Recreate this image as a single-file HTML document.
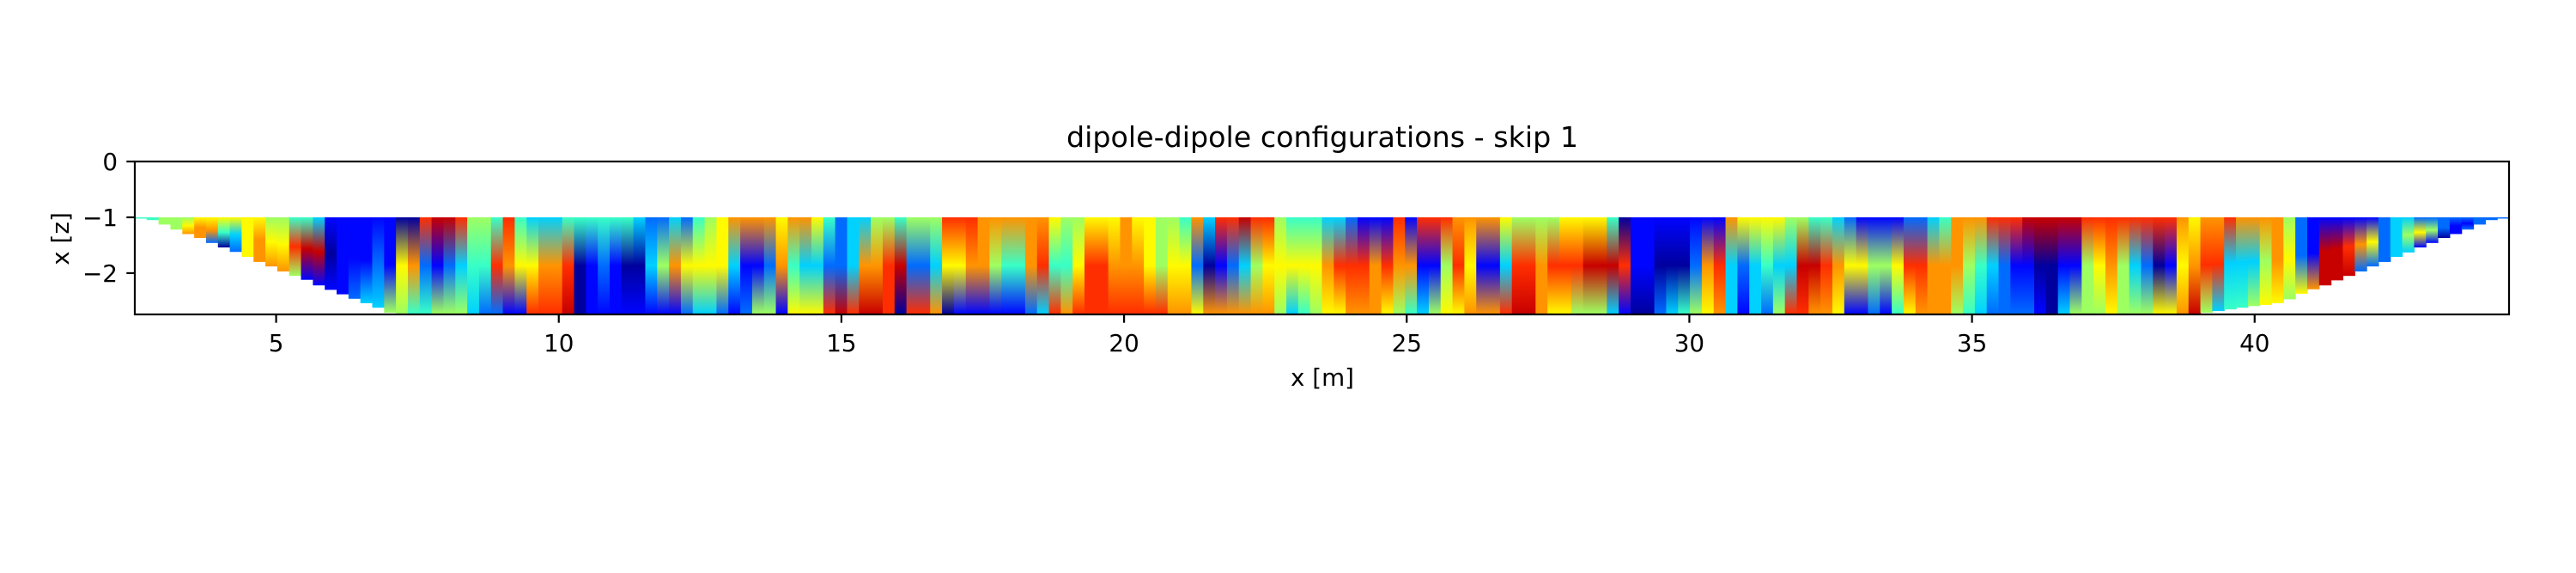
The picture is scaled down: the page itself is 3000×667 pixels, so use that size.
<!DOCTYPE html>
<html><head><meta charset="utf-8"><style>
html,body{margin:0;padding:0;background:#fff;}
svg{display:block;}
text{font-family:"DejaVu Sans","Liberation Sans",sans-serif;fill:#000;}
</style></head><body>
<svg id="chart" width="3000" height="667" viewBox="0 0 3000 667" xmlns="http://www.w3.org/2000/svg">
<defs id="grads"></defs>
<rect x="0" y="0" width="3000" height="667" fill="#fff"/>
<g id="cells"></g>
<g id="axes"></g>
<text x="1540" y="171" font-size="33.3" text-anchor="middle">dipole-dipole configurations - skip 1</text>
<text x="1540" y="449" font-size="27.8" text-anchor="middle">x [m]</text>
<text transform="translate(80,278) rotate(-90)" font-size="27.8" text-anchor="middle">x [z]</text>
</svg>
<script>
// ---- data (jet colour index 0..9 per column at top / middle / bottom) ----
const topVals = [4,4,5,5,5,6,6,6,6,6,6,5,5,4,4,3,1,1,1,1,1,1,
0,0,8,9,9,8,5,5,4,8,4,3,3,3,4,4,4,4,4,
4,3,2,2,3,2,4,5,6,7,7,7,7,6,7,7,6,4,2,3,3,5,5,4,5,5,5,8,8,8,7,7,7,7,7,7,6,5,5,6,6,6,7,
6,6,5,5,4,7,3,8,8,9,8,8,5,4,4,4,3,3,2,1,1,1,8,1,8,8,8,7,7,7,7,6,5,5,5,5,6,6,6,6,4,0,1,
1,1,1,1,1,1,1,7,6,6,6,6,5,5,4,4,3,2,1,1,1,1,2,2,3,4,7,7,7,8,8,8,9,9,9,9,9,8,8,8,8,8,
8,8,8,7,6,7,7,8,7,7,7,7,5,2,1,1,1,1,1,1,2,3,3,2,2,2,2,2,2,2,2];
const midVals = [4,4,5,5,6,7,7,4,3,6,7,6,6,8,9,9,0,1,1,1,2,1,
6,7,2,1,2,3,4,4,8,7,6,6,7,7,8,0,1,2,1,
0,0,3,5,7,6,6,6,6,3,1,1,2,7,4,3,3,2,2,3,7,7,8,9,2,2,3,6,6,7,7,5,4,4,7,8,4,4,6,8,8,7,7,
7,6,5,6,6,2,0,1,2,3,5,6,6,6,6,6,7,8,8,8,7,8,7,7,1,1,5,8,6,1,1,3,8,8,7,8,8,8,9,9,9,8,1,
1,0,0,0,2,7,8,3,2,3,4,3,3,9,9,8,7,6,6,5,5,6,8,8,7,7,7,5,4,3,2,1,1,0,0,1,1,5,6,7,5,3,
2,0,1,6,7,8,8,3,3,3,5,7,6,2,1,9,9,8,7,6,2,3,5,6,5,2,1,1,2,2,2];
const botVals = [4,4,5,5,7,7,2,0,2,6,7,7,7,5,1,1,1,1,2,3,3,5,
5,4,4,5,5,5,3,2,2,1,1,8,8,8,9,0,1,1,1,
1,1,1,1,1,2,3,3,2,1,2,5,5,1,6,6,6,8,9,8,9,9,8,0,8,8,7,0,1,1,1,1,1,1,2,3,8,7,8,8,8,8,8,
8,8,8,7,7,6,7,7,7,7,7,7,5,3,4,5,6,6,7,7,7,6,5,4,3,5,6,6,7,7,7,8,9,9,7,6,6,5,5,5,3,1,0,
0,2,3,4,5,6,7,3,1,3,2,5,8,8,7,7,6,1,1,2,1,4,6,7,7,7,5,4,3,2,2,2,2,1,0,3,5,5,5,6,5,5,
5,6,6,7,9,5,3,4,4,5,6,6,5,6,7,9,9,9,2,2,2,3,3,1,1,0,1,2,2,2,2];
const leftBottoms = [1.01,1.05,1.13,1.22,1.30,1.37,1.46,1.54,1.62,1.71,1.80,1.88,1.97,2.05,2.12,2.22,2.30,2.38,2.46,2.54,2.62,2.71];
const rightBottoms = [2.71,2.68,2.65,2.62,2.59,2.57,2.54,2.47,2.37,2.29,2.22,2.13,2.05,1.97,1.88,1.80,1.71,1.63,1.54,1.46,1.37,1.30,1.22,1.13,1.05,1.01];
const fullDepth = 2.73;
const topDepth = 1.0;
const xStart = 2.5, colWidth = 0.21;
const xTicks = [5,10,15,20,25,30,35,40];
const yTicks = [0,-1,-2];

const AX = {left:157, right:2922, top:188, bottom:366};
const XMIN = 2.5, XMAX = 44.5, YMIN = -2.74, YMAX = 0;
function sx(v){ return AX.left + (v - XMIN) / (XMAX - XMIN) * (AX.right - AX.left); }
function sy(v){ return AX.top + (YMAX - v) / (YMAX - YMIN) * (AX.bottom - AX.top); }
function jet(d){
  const v = 0.03 + (d / 9) * 0.9;
  const c = t => Math.round(255 * Math.max(0, Math.min(1, t)));
  return 'rgb(' + c(1.5 - Math.abs(4*v - 3)) + ',' + c(1.5 - Math.abs(4*v - 2)) + ',' + c(1.5 - Math.abs(4*v - 1)) + ')';
}
const NS = 'http://www.w3.org/2000/svg';
const defs = document.getElementById('grads');
const cells = document.getElementById('cells');
const n = topVals.length;
for (let i = 0; i < n; i++) {
  let bot = fullDepth;
  if (i < leftBottoms.length) bot = leftBottoms[i];
  const ri = i - (n - rightBottoms.length);
  if (ri >= 0) bot = Math.min(bot, rightBottoms[ri]);
  const g = document.createElementNS(NS, 'linearGradient');
  g.setAttribute('id', 'g' + i);
  g.setAttribute('x1', '0'); g.setAttribute('y1', '0'); g.setAttribute('x2', '0'); g.setAttribute('y2', '1');
  [[0, topVals[i]], [0.5, midVals[i]], [1, botVals[i]]].forEach(([o, val]) => {
    const s = document.createElementNS(NS, 'stop');
    s.setAttribute('offset', o);
    s.setAttribute('stop-color', jet(val));
    g.appendChild(s);
  });
  defs.appendChild(g);
  const x0 = sx(xStart + i * colWidth), x1 = sx(xStart + (i + 1) * colWidth);
  const y0 = sy(-topDepth), y1 = sy(-bot);
  const r = document.createElementNS(NS, 'rect');
  r.setAttribute('x', x0.toFixed(2));
  r.setAttribute('y', y0.toFixed(2));
  r.setAttribute('width', (x1 - x0 + 0.6).toFixed(2));
  r.setAttribute('height', Math.max(1.5, y1 - y0).toFixed(2));
  r.setAttribute('fill', 'url(#g' + i + ')');
  
  
  cells.appendChild(r);
}
const axes = document.getElementById('axes');
const frame = document.createElementNS(NS, 'rect');
frame.setAttribute('x', AX.left); frame.setAttribute('y', AX.top);
frame.setAttribute('width', AX.right - AX.left); frame.setAttribute('height', AX.bottom - AX.top);
frame.setAttribute('fill', 'none'); frame.setAttribute('stroke', '#000'); frame.setAttribute('stroke-width', '2.2');


axes.appendChild(frame);
xTicks.forEach(v => {
  const x = sx(v);
  const l = document.createElementNS(NS, 'line');
  l.setAttribute('x1', x); l.setAttribute('x2', x); l.setAttribute('y1', AX.bottom); l.setAttribute('y2', AX.bottom + 9.7);
  l.setAttribute('stroke', '#000'); l.setAttribute('stroke-width', '2.2');
  
  
  axes.appendChild(l);
  const t = document.createElementNS(NS, 'text');
  t.setAttribute('x', x); t.setAttribute('y', 409); t.setAttribute('font-size', '27.8'); t.setAttribute('text-anchor', 'middle');
  t.textContent = v;
  
  
  axes.appendChild(t);
});
yTicks.forEach(v => {
  const y = sy(v);
  const l = document.createElementNS(NS, 'line');
  l.setAttribute('x1', AX.left - 9.7); l.setAttribute('x2', AX.left); l.setAttribute('y1', y); l.setAttribute('y2', y);
  l.setAttribute('stroke', '#000'); l.setAttribute('stroke-width', '2.2');
  
  
  axes.appendChild(l);
  const t = document.createElementNS(NS, 'text');
  t.setAttribute('x', 137); t.setAttribute('y', y + 10); t.setAttribute('font-size', '27.8'); t.setAttribute('text-anchor', 'end');
  t.textContent = v < 0 ? '\u2212' + Math.abs(v) : String(v);
  
  
  axes.appendChild(t);
});
</script>
</body></html>
